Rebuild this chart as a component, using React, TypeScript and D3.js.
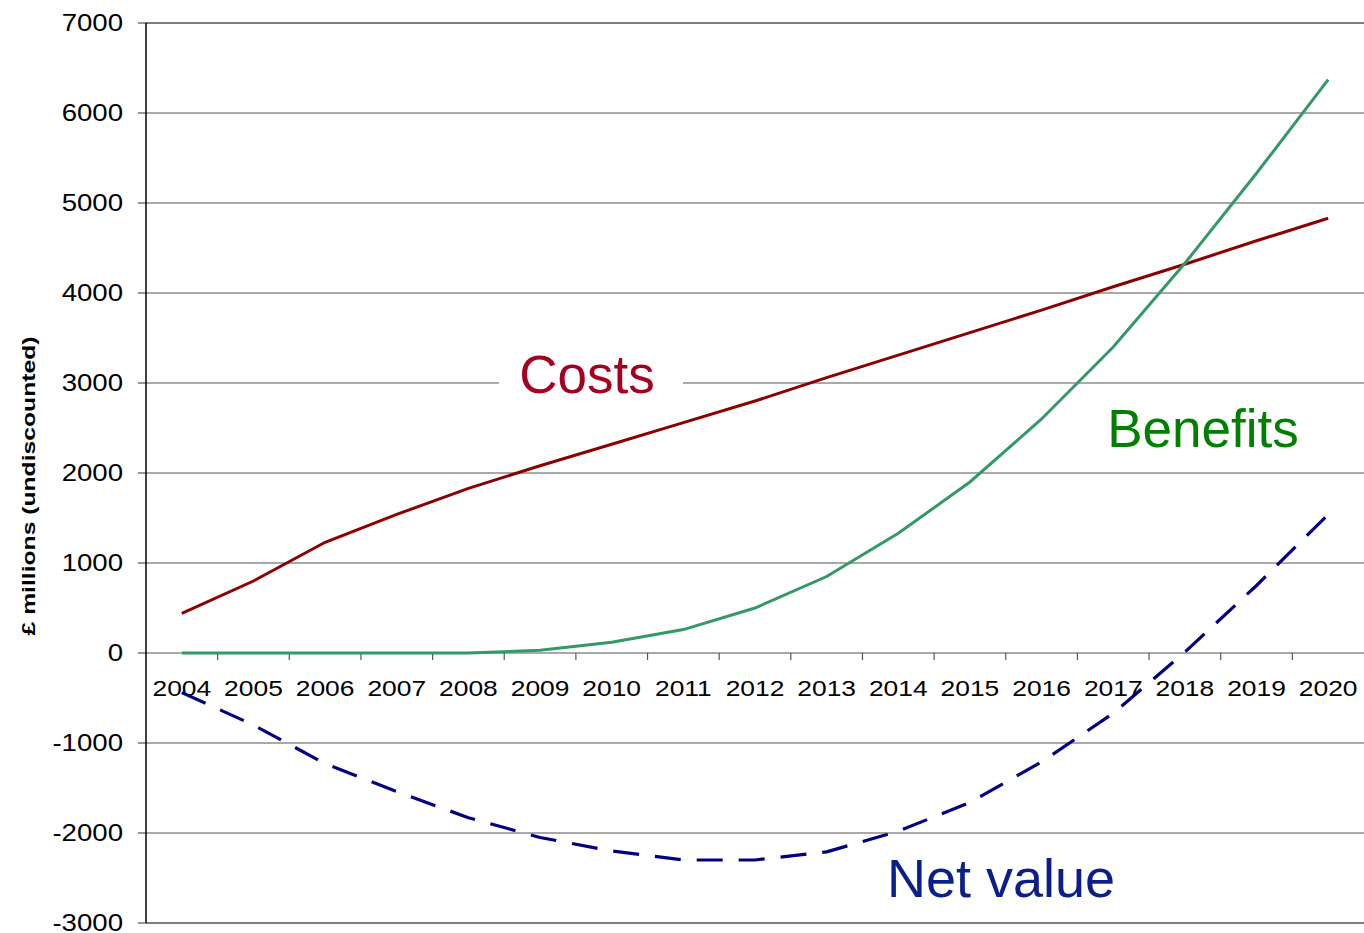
import React from "react";
import * as d3 from "d3";

const years = ["2004","2005","2006","2007","2008","2009","2010","2011","2012","2013","2014","2015","2016","2017","2018","2019","2020"];
const costs = [440, 800, 1230, 1540, 1830, 2080, 2320, 2560, 2800, 3060, 3310, 3560, 3810, 4070, 4320, 4580, 4830];
const benefits = [0, 0, 0, 0, 0, 30, 120, 260, 500, 850, 1330, 1900, 2600, 3400, 4330, 5330, 6370];
const netValue = [-440, -800, -1230, -1540, -1830, -2050, -2200, -2300, -2300, -2210, -1980, -1660, -1210, -670, 10, 750, 1540];
const yTicks = [-3000, -2000, -1000, 0, 1000, 2000, 3000, 4000, 5000, 6000, 7000];

export default function App() {
  const W = 1364, H = 933;
  const left = 146, right = 1364, top = 23, bottom = 923;
  const x = d3.scaleBand<string>().domain(years).range([left, right]);
  const y = d3.scaleLinear().domain([-3000, 7000]).range([bottom, top]);
  const cx = (i: number) => (x(years[i]) as number) + x.bandwidth() / 2;
  const line = d3.line<number>().x((_, i) => cx(i)).y((d) => y(d));
  const font = "Liberation Sans, Arial, sans-serif";
  const boundaries = years.map((yr) => (x(yr) as number) + x.bandwidth()).slice(0, -1);
  const sx = 1.2;

  return (
    <svg width={W} height={H} style={{ position: "absolute", left: 0, top: 0, background: "#fff" }} fontFamily={font}>
      <rect x={0} y={0} width={W} height={H} fill="#fff" />
      {yTicks.map((t) => (
        <g key={t}>
          <line x1={left} x2={right} y1={y(t)} y2={y(t)} stroke={t === 7000 || t === -3000 ? "#000" : "#555"} strokeWidth={1.2} />
          <line x1={left - 8} x2={left} y1={y(t)} y2={y(t)} stroke="#555" strokeWidth={1.2} />
          <text transform={`translate(123,${y(t)}) scale(${sx},1)`} dy="0.35em" textAnchor="end" fontSize={23} fill="#000">{t}</text>
        </g>
      ))}
      <line x1={left} x2={left} y1={top} y2={bottom} stroke="#000" strokeWidth={1.5} />
      {boundaries.map((b, i) => (
        <line key={i} x1={b} x2={b} y1={y(0)} y2={y(0) + 7} stroke="#555" strokeWidth={1.2} />
      ))}
      {years.map((yr, i) => (
        <text key={yr} transform={`translate(${cx(i)},688) scale(${sx},1)`} dy="0.35em" textAnchor="middle" fontSize={22} fill="#000">{yr}</text>
      ))}
      <text transform={`translate(35,486) rotate(-90) scale(1.3,1)`} textAnchor="middle" fontSize={19} fontWeight="bold" fill="#000">£ millions (undiscounted)</text>
      <path d={line(costs) as string} fill="none" stroke="#8B0000" strokeWidth={3} />
      <path d={line(benefits) as string} fill="none" stroke="#339966" strokeWidth={3} />
      <path d={line(netValue) as string} fill="none" stroke="#000080" strokeWidth={3.2} strokeDasharray="26 16" />
      <rect x={499} y={345} width={184} height={60} fill="#fff" />
      <text x={587} y={393} textAnchor="middle" fontSize={53} fill="#A50021">Costs</text>
      <text x={1203} y={447} textAnchor="middle" fontSize={53} fill="#008000">Benefits</text>
      <text x={1001} y={897} textAnchor="middle" fontSize={54} fill="#0A1E8C">Net value</text>
    </svg>
  );
}
